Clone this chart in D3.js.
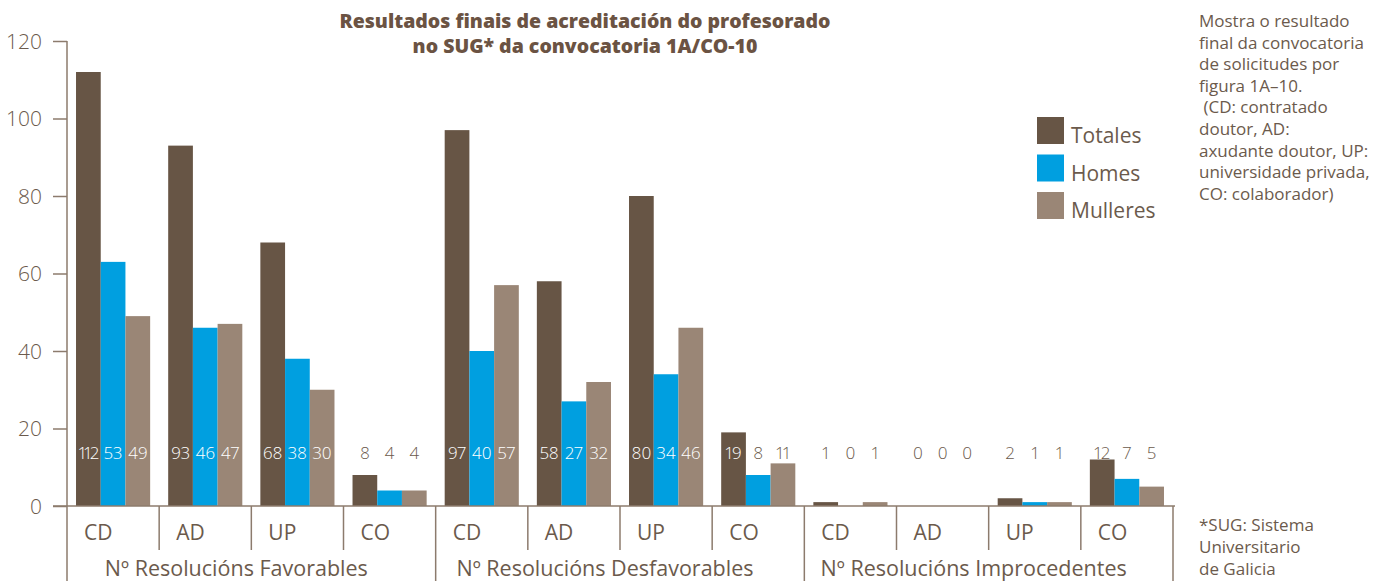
<!DOCTYPE html>
<html><head><meta charset="utf-8">
<script src="https://cdn.jsdelivr.net/npm/d3@7/dist/d3.min.js"></script>
<style>
html,body{margin:0;padding:0;background:#fff;}
text{font-family:"Open Sans",Roboto,sans-serif;}
</style></head>
<body><svg id="c" width="1396" height="581"></svg>
<script>
const groups = ["Nº Resolucións Favorables","Nº Resolucións Desfavorables","Nº Resolucións Improcedentes"];
const categories = ["CD","AD","UP","CO"];
const seriesNames = ["Totales","Homes","Mulleres"];
// bar heights as drawn
const totales  = [112,93,68,8, 97,58,80,19, 1,0,2,12];
const homes    = [63,46,38,4, 40,27,34,8, 0,0,1,7];
const mulleres = [49,47,30,4, 57,32,46,11, 1,0,1,5];
// value labels as printed
const totalesLabels  = ["112","93","68","8","97","58","80","19","1","0","2","12"];
const homesLabels    = ["53","46","38","4","40","27","34","8","0","0","1","7"];
const mulleresLabels = ["49","47","30","4","57","32","46","11","1","0","1","5"];
const yTicks = [0,20,40,60,80,100,120];
const title = ["Resultados finais de acreditación do profesorado","no SUG* da convocatoria 1A/CO-10"];
const note = ["Mostra o resultado","final da convocatoria","de solicitudes por","figura 1A\u201310."," (CD: contratado","doutor, AD:","axudante doutor, UP:","universidade privada,","CO: colaborador)"];
const footnote = ["*SUG: Sistema","Universitario","de Galicia"];

const colors = {Totales:"#675545", Homes:"#009fe0", Mulleres:"#9a8676"};
const textCol = "#6b5a4c", axisCol = "#8c7b6d";

const svg = d3.select("#c");
const keys = [];
groups.forEach((g,gi)=>categories.forEach((c,ci)=>keys.push(gi+"|"+c)));
const data = keys.map((k,i)=>({key:k, cat:categories[i%4], group:Math.floor(i/4),
  vals:[{s:"Totales",v:totales[i],l:totalesLabels[i]},{s:"Homes",v:homes[i],l:homesLabels[i]},{s:"Mulleres",v:mulleres[i],l:mulleresLabels[i]}]}));

const x = d3.scaleBand().domain(keys).range([67,1173]).padding(0);
const xs = d3.scaleBand().domain(seriesNames).range([0,x.bandwidth()]).paddingInner(0).paddingOuter(0.365);
const y = d3.scaleLinear().domain([0,120]).range([506,41]);

// y axis
const yAxis = d3.axisLeft(y).tickValues(yTicks).tickSize(14).tickPadding(11);
const ya = svg.append("g").attr("transform","translate(67,0)").call(yAxis);
ya.select(".domain").remove();
ya.selectAll("line").attr("stroke",axisCol).attr("stroke-width",1.5);
ya.selectAll("text").attr("fill",textCol).attr("font-size",21).attr("font-weight",300)
  .attr("font-family","Roboto,sans-serif").attr("dy","0.35em");
svg.append("line").attr("x1",67).attr("x2",67).attr("y1",y(120)).attr("y2",581).attr("stroke",axisCol).attr("stroke-width",1.5);

// bars
const cg = svg.selectAll("g.cat").data(data).join("g").attr("class","cat").attr("transform",d=>`translate(${x(d.key)},0)`);
cg.selectAll("rect").data(d=>d.vals).join("rect")
  .attr("x",d=>xs(d.s)).attr("width",xs.bandwidth())
  .attr("y",d=>y(d.v)).attr("height",d=>y(0)-y(d.v)).attr("fill",d=>colors[d.s]);
const labelY = 459;
cg.selectAll("text").data(d=>d.vals).join("text")
  .attr("x",d=>xs(d.s)+xs.bandwidth()/2).attr("y",labelY)
  .attr("text-anchor","middle").attr("font-size",17).attr("font-weight",300)
  .attr("font-family","Roboto,sans-serif")
  .style("font-variant-numeric","proportional-nums")
  .attr("letter-spacing",d=>d.l.length>2?-1:0)
  .attr("fill",d=> y(d.v) < labelY-16 ? "#ffffff" : textCol)
  .text(d=>d.l);

// x baseline
svg.append("line").attr("x1",53).attr("x2",1175).attr("y1",y(0)).attr("y2",y(0)).attr("stroke",axisCol).attr("stroke-width",1.5);
// dividers
keys.forEach((k,i)=>{
  const xx = x(k)+x.bandwidth();
  const end = (i%4===3) ? 581 : 550;
  svg.append("line").attr("x1",xx).attr("x2",xx).attr("y1",y(0)).attr("y2",end).attr("stroke",axisCol).attr("stroke-width",1.5);
});
// category labels
svg.selectAll("text.catl").data(data).join("text").attr("class","catl")
  .attr("x",d=>x(d.key)+17).attr("y",540).attr("font-size",21).attr("font-weight",400).attr("fill",textCol).text(d=>d.cat);
// group labels
groups.forEach((g,gi)=>{
  const x0 = x(gi+"|CD"), x1 = x(gi+"|CO")+x.bandwidth();
  svg.append("text").attr("x",(x0+x1)/2-15).attr("y",576).attr("text-anchor","middle")
    .attr("font-size",21.5).attr("font-weight",400).attr("fill",textCol).text(g);
});

// title
svg.selectAll("text.title").data(title).join("text").attr("class","title")
  .attr("x",585).attr("y",(d,i)=>28+i*25).attr("text-anchor","middle")
  .attr("font-family","Roboto,sans-serif")
  .attr("font-size",19.5).attr("font-weight",900).attr("fill","#6b5343").text(d=>d);

// legend
seriesNames.forEach((s,i)=>{
  const ly = 117 + i*37.5;
  svg.append("rect").attr("x",1037).attr("y",ly).attr("width",27).attr("height",27).attr("fill",colors[s]);
  svg.append("text").attr("x",1071).attr("y",ly+26).attr("font-size",21).attr("font-weight",400).attr("fill",textCol).text(s);
});

// note
svg.selectAll("text.note").data(note).join("text").attr("class","note")
  .attr("x",1199).attr("y",(d,i)=>27+i*21.6).attr("font-size",17).attr("font-weight",400).attr("fill",textCol)
  .attr("xml:space","preserve").style("white-space","pre").text(d=>d);
svg.selectAll("text.foot").data(footnote).join("text").attr("class","foot")
  .attr("x",1199).attr("y",(d,i)=>531+i*22).attr("font-size",17).attr("font-weight",400).attr("fill",textCol).text(d=>d);
</script></body></html>
